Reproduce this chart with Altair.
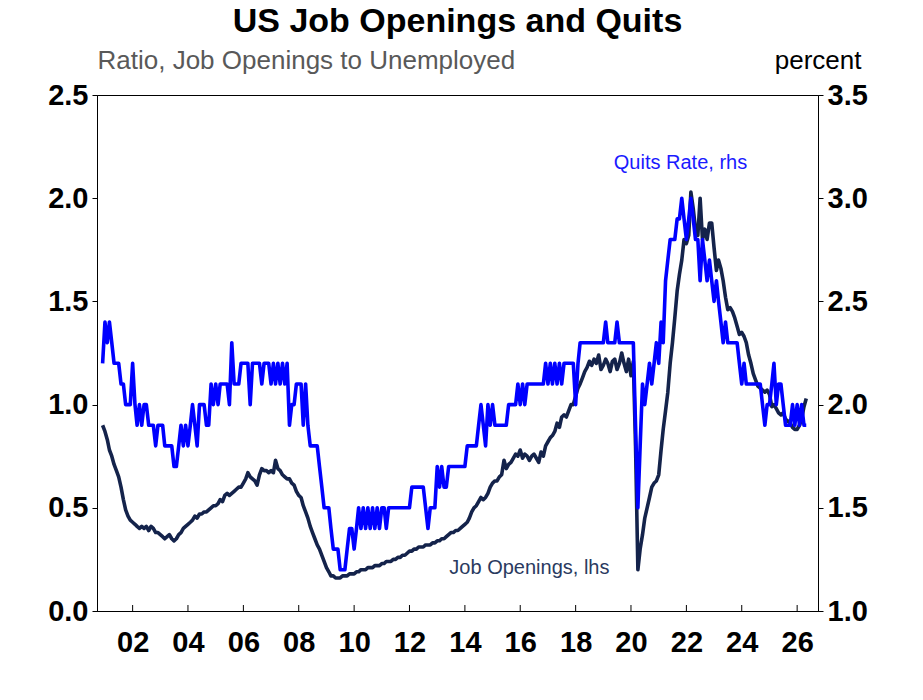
import altair as alt
import pandas as pd

# ---------------- data (monthly, Dec 2000 .. May 2026) ----------------
start_month = "2000-12-01"

quits_rate = (
    [2.2]  # Dec 2000
    + [2.4, 2.3, 2.4, 2.3, 2.2, 2.2, 2.2, 2.1, 2.1, 2.0, 2.0, 2.0]  # 2001
    + [2.2, 2.0, 1.9, 2.0, 1.9, 2.0, 2.0, 1.9, 1.9, 1.9, 1.8, 1.9]  # 2002
    + [1.9, 1.9, 1.8, 1.8, 1.8, 1.8, 1.7, 1.7, 1.8, 1.9, 1.8, 1.9]  # 2003
    + [1.8, 1.9, 2.0, 1.9, 1.8, 2.0, 2.0, 2.0, 1.9, 1.9, 2.1, 2.0]  # 2004
    + [2.1, 2.0, 2.1, 2.1, 2.1, 2.1, 2.0, 2.3, 2.1, 2.1, 2.1, 2.2]  # 2005
    + [2.2, 2.2, 2.2, 2.0, 2.2, 2.2, 2.2, 2.2, 2.1, 2.2, 2.2, 2.2]  # 2006
    + [2.1, 2.2, 2.1, 2.2, 2.1, 2.2, 2.1, 2.2, 1.9, 2.0, 2.0, 2.1]  # 2007
    + [2.1, 2.1, 1.9, 2.1, 1.9, 1.8, 1.8, 1.8, 1.8, 1.7, 1.6, 1.5]  # 2008
    + [1.5, 1.5, 1.4, 1.3, 1.3, 1.3, 1.2, 1.2, 1.2, 1.3, 1.4, 1.4]  # 2009
    + [1.3, 1.4, 1.5, 1.4, 1.5, 1.4, 1.5, 1.4, 1.5, 1.4, 1.5, 1.4]  # 2010
    + [1.5, 1.5, 1.4, 1.5, 1.5, 1.5, 1.5, 1.5, 1.5, 1.5, 1.5, 1.5]  # 2011
    + [1.5, 1.6, 1.6, 1.6, 1.6, 1.6, 1.6, 1.5, 1.4, 1.5, 1.5, 1.5]  # 2012
    + [1.7, 1.6, 1.7, 1.6, 1.6, 1.7, 1.7, 1.7, 1.7, 1.7, 1.7, 1.7]  # 2013
    + [1.7, 1.8, 1.8, 1.8, 1.8, 1.8, 1.9, 2.0, 1.9, 1.8, 2.0, 1.9]  # 2014
    + [2.0, 1.9, 1.9, 1.9, 1.9, 1.9, 1.9, 2.0, 2.0, 2.0, 2.0, 2.1]  # 2015
    + [2.0, 2.1, 2.0, 2.1, 2.1, 2.1, 2.1, 2.1, 2.1, 2.1, 2.1, 2.2]  # 2016
    + [2.1, 2.2, 2.1, 2.2, 2.1, 2.2, 2.1, 2.2, 2.2, 2.2, 2.2, 2.2]  # 2017
    + [2.0, 2.2, 2.3, 2.3, 2.3, 2.3, 2.3, 2.3, 2.3, 2.3, 2.3, 2.3]  # 2018
    + [2.3, 2.4, 2.3, 2.3, 2.3, 2.3, 2.4, 2.3, 2.3, 2.3, 2.3, 2.3]  # 2019
    + [2.3, 2.3, 1.9, 1.5, 1.8, 2.1, 2.0, 2.1, 2.2, 2.1, 2.2, 2.3]  # 2020
    + [2.2, 2.4, 2.3, 2.6, 2.7, 2.8, 2.8, 2.8, 2.9, 2.9, 3.0, 2.9]  # 2021
    + [2.8, 2.9, 3.0, 2.9, 2.8, 2.8, 2.6, 2.8, 2.7, 2.6, 2.7, 2.6]  # 2022
    + [2.5, 2.6, 2.5, 2.4, 2.3, 2.4, 2.3, 2.3, 2.3, 2.3, 2.3, 2.2]  # 2023
    + [2.1, 2.2, 2.1, 2.1, 2.1, 2.1, 2.1, 2.1, 2.1, 2.0, 1.9, 2.0]  # 2024
    + [2.0, 2.1, 2.2, 2.0, 2.1, 2.1, 2.0, 1.9, 1.9, 1.9, 2.0, 1.9]  # 2025
    + [2.0, 1.9, 2.0, 1.9, 1.9]  # 2026
)

openings_ratio = (
    [0.90]  # Dec 2000
    + [0.87, 0.83, 0.78, 0.75, 0.71, 0.68, 0.65, 0.60, 0.54, 0.49, 0.46, 0.44]  # 2001
    + [0.43, 0.42, 0.41, 0.40, 0.41, 0.40, 0.41, 0.39, 0.41, 0.40, 0.38, 0.38]  # 2002
    + [0.37, 0.36, 0.35, 0.36, 0.37, 0.35, 0.34, 0.35, 0.37, 0.38, 0.40, 0.41]  # 2003
    + [0.42, 0.43, 0.44, 0.46, 0.45, 0.47, 0.47, 0.48, 0.48, 0.49, 0.50, 0.51]  # 2004
    + [0.51, 0.52, 0.54, 0.53, 0.56, 0.57, 0.56, 0.57, 0.58, 0.59, 0.60, 0.60]  # 2005
    + [0.62, 0.64, 0.67, 0.65, 0.64, 0.63, 0.61, 0.66, 0.69, 0.68, 0.68, 0.67]  # 2006
    + [0.68, 0.67, 0.73, 0.69, 0.68, 0.66, 0.65, 0.64, 0.64, 0.62, 0.61, 0.58]  # 2007
    + [0.56, 0.55, 0.51, 0.48, 0.45, 0.41, 0.38, 0.35, 0.32, 0.30, 0.27, 0.24]  # 2008
    + [0.21, 0.19, 0.17, 0.17, 0.16, 0.16, 0.16, 0.17, 0.17, 0.17, 0.18, 0.18]  # 2009
    + [0.18, 0.19, 0.19, 0.20, 0.20, 0.20, 0.21, 0.21, 0.21, 0.22, 0.22, 0.22]  # 2010
    + [0.23, 0.23, 0.24, 0.24, 0.24, 0.25, 0.25, 0.26, 0.26, 0.27, 0.27, 0.28]  # 2011
    + [0.29, 0.29, 0.30, 0.30, 0.31, 0.31, 0.31, 0.32, 0.32, 0.32, 0.33, 0.33]  # 2012
    + [0.34, 0.34, 0.35, 0.35, 0.36, 0.37, 0.38, 0.38, 0.39, 0.39, 0.40, 0.41]  # 2013
    + [0.42, 0.43, 0.45, 0.48, 0.50, 0.51, 0.53, 0.55, 0.54, 0.55, 0.57, 0.60]  # 2014
    + [0.62, 0.63, 0.63, 0.65, 0.66, 0.73, 0.69, 0.71, 0.72, 0.74, 0.76, 0.75]  # 2015
    + [0.78, 0.74, 0.76, 0.75, 0.73, 0.75, 0.76, 0.74, 0.72, 0.77, 0.75, 0.80]  # 2016
    + [0.82, 0.84, 0.85, 0.87, 0.91, 0.89, 0.94, 0.95, 0.94, 0.97, 1.00, 1.00]  # 2017
    + [1.04, 1.08, 1.10, 1.13, 1.16, 1.18, 1.21, 1.19, 1.22, 1.20, 1.24, 1.17]  # 2018
    + [1.19, 1.22, 1.20, 1.16, 1.21, 1.22, 1.17, 1.20, 1.25, 1.20, 1.16, 1.22]  # 2019
    + [1.14, 1.21, 0.80, 0.20, 0.30, 0.37, 0.45, 0.50, 0.55, 0.60, 0.62, 0.63]  # 2020
    + [0.66, 0.78, 0.88, 0.97, 1.06, 1.20, 1.30, 1.42, 1.55, 1.63, 1.70, 1.80]  # 2021
    + [1.78, 1.82, 2.03, 1.95, 1.85, 1.82, 2.00, 1.80, 1.85, 1.80, 1.88, 1.88]  # 2022
    + [1.76, 1.65, 1.70, 1.66, 1.60, 1.52, 1.46, 1.47, 1.45, 1.42, 1.38, 1.34]  # 2023
    + [1.35, 1.33, 1.30, 1.24, 1.20, 1.15, 1.12, 1.09, 1.08, 1.07, 1.06, 1.07]  # 2024
    + [1.05, 0.99, 1.00, 0.98, 0.96, 0.95, 0.96, 0.93, 0.92, 0.91, 0.89, 0.88]  # 2025
    + [0.88, 0.90, 0.93, 0.99, 1.03]  # 2026
)

tick_years = list(range(2002, 2027, 2))
left_ticks = [0.0, 0.5, 1.0, 1.5, 2.0, 2.5]
right_ticks = [1.0, 1.5, 2.0, 2.5, 3.0, 3.5]

# annotation anchors (in data units)
quits_label = {"date": "2021-10-15", "quits": 3.17, "text": "Quits Rate, rhs"}
jo_label = {"date": "2016-05-01", "jo": 0.21, "text": "Job Openings, lhs"}

# ---------------- frames ----------------
dates = pd.date_range(start_month, periods=len(openings_ratio), freq="MS")
df = pd.DataFrame({"date": dates, "jo": openings_ratio, "quits": quits_rate})
tick_df = pd.DataFrame({"date": pd.to_datetime([f"{y}-01-01" for y in tick_years])})
ql_df = pd.DataFrame([quits_label])
ql_df["date"] = pd.to_datetime(ql_df["date"])
jl_df = pd.DataFrame([jo_label])
jl_df["date"] = pd.to_datetime(jl_df["date"])

FONT = "Liberation Sans"
DARK = "#14234B"
BLUE = "#0000FF"

W, H = 721, 516

x_scale = alt.Scale(domain=[alt.DateTime(year=2000, month=9, date=18),
                            alt.DateTime(year=2026, month=10, date=3)])
x_axis = alt.Axis(
    values=[alt.DateTime(year=y, month=1, date=1) for y in tick_years],
    format="%y", title=None, grid=False, ticks=False,
    labelFont=FONT, labelFontSize=29, labelFontWeight="bold", labelColor="black",
    labelPadding=17, domainColor="black", domainWidth=1,
)
x_enc = alt.X("date:T", scale=x_scale, axis=x_axis)

left_axis = alt.Axis(
    values=left_ticks, format=".1f", grid=False,
    labelFont=FONT, labelFontSize=29, labelFontWeight="bold", labelColor="black",
    labelPadding=4, tickSize=5, tickColor="black", domainColor="black",
    title="Ratio, Job Openings to Unemployed", titleAngle=0, titleAlign="left",
    titleBaseline="alphabetic", titleX=0, titleY=-27, titleFont=FONT,
    titleFontSize=26, titleFontWeight="normal", titleColor="#595959",
)
right_axis = alt.Axis(
    orient="right", values=right_ticks, format=".1f", grid=False,
    labelFont=FONT, labelFontSize=29, labelFontWeight="bold", labelColor="black",
    labelPadding=4, tickSize=5, tickColor="black", domainColor="black",
    title="percent", titleAngle=0, titleAlign="right",
    titleBaseline="alphabetic", titleX=43, titleY=-27, titleFont=FONT,
    titleFontSize=26, titleFontWeight="normal", titleColor="black",
)

jo_scale = alt.Scale(domain=[0, 2.5], nice=False, zero=False)
q_scale = alt.Scale(domain=[1.0, 3.5], nice=False, zero=False)

jo_line = alt.Chart(df).mark_line(color=DARK, strokeWidth=3.6, strokeJoin="round").encode(
    x=x_enc, y=alt.Y("jo:Q", scale=jo_scale, axis=left_axis)
)
jo_text = alt.Chart(jl_df).mark_text(
    font=FONT, fontSize=20, color="#2A3A60", align="center", baseline="middle"
).encode(x=x_enc, y=alt.Y("jo:Q", scale=jo_scale, axis=left_axis), text="text:N")

q_line = alt.Chart(df).mark_line(color=BLUE, strokeWidth=3.6, strokeJoin="round").encode(
    x=x_enc, y=alt.Y("quits:Q", scale=q_scale, axis=right_axis)
)
q_text = alt.Chart(ql_df).mark_text(
    font=FONT, fontSize=20, color="#1A1AFF", align="center", baseline="middle"
).encode(x=x_enc, y=alt.Y("quits:Q", scale=q_scale, axis=right_axis), text="text:N")

ticks = alt.Chart(tick_df).mark_rule(color="black", strokeWidth=1).encode(
    x=x_enc,
    y=alt.value(H - 6), y2=alt.value(H),
)

chart = alt.layer(
    alt.layer(jo_line, jo_text),
    alt.layer(q_line, q_text),
    ticks,
).resolve_scale(y="independent").properties(
    width=W, height=H,
    autosize=alt.AutoSizeParams(type="none"),
    padding={"left": 97, "top": 95, "right": 105, "bottom": 89},
    background="white",
    title=alt.TitleParams(
        "US Job Openings and Quits", font=FONT, fontSize=34, fontWeight="bold",
        color="black", anchor="middle", offset=8,
    ),
).configure_view(stroke="black", strokeWidth=1)

chart.save("out.html", embed_options={"renderer": "svg", "actions": False})
